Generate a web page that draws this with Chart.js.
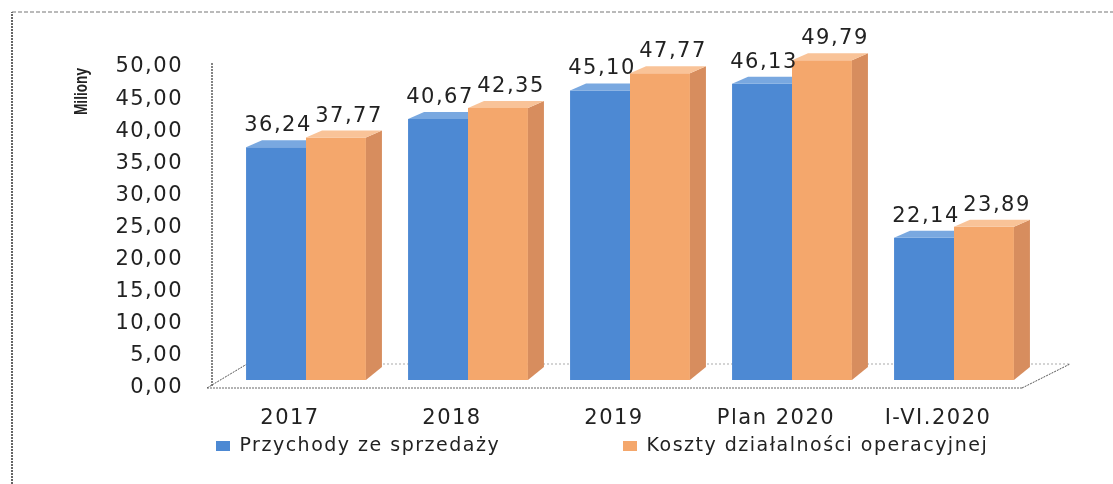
<!DOCTYPE html>
<html><head><meta charset="utf-8">
<script src="https://cdn.jsdelivr.net/npm/chart.js@4.4.1/dist/chart.umd.min.js"></script>
<style>html,body{margin:0;padding:0;background:#fff;overflow:hidden}canvas{display:block}</style>
</head><body>
<canvas id="c" width="1113" height="484"></canvas>
<script>
// ---- data ----
const categories = ['2017', '2018', '2019', 'Plan 2020', 'I-VI.2020'];
const seriesNames = ['Przychody ze sprzedaży', 'Koszty działalności operacyjnej'];
const przychody = [36.24, 40.67, 45.10, 46.13, 22.14];
const koszty = [37.77, 42.35, 47.77, 49.79, 23.89];
const yMin = 0, yMax = 50, yStep = 5;
const axisTitle = 'Miliony';

// ---- style ----
const FONT = "'DejaVu Sans', Verdana, sans-serif";
const TITLE_FAMILY = "'Liberation Sans', Arial, sans-serif";
const TEXT = '#222';
const LS = '1.5px';
const front = ['#4d89d3', '#f4a76c'];
const topC = ['#79a8e0', '#f9c398'];
const sideC = ['#3f74b8', '#d78d5e'];
const DX = 16, DY_TOP = 7, DY_BOT = 13;
const fmt = v => v.toFixed(2).replace('.', ',');

// legend geometry
const LEG_FS = 19, BOXW = 14, BOXH = 10;
const tmp = document.createElement('canvas').getContext('2d');
tmp.font = LEG_FS + 'px ' + FONT; tmp.letterSpacing = LS;
const blueW = tmp.measureText(seriesNames[0]).width;
const LEG_X1 = 216, LEG_X2 = 623, LEG_Y = 436.5;
const legPad = Math.max(10, LEG_X2 - LEG_X1 - (BOXW + LEG_FS / 2 + blueW));

// axis title geometry (condensed look)
const TITLE_Y0 = 68, TITLE_LEN = 47;

function poly(ctx, pts, fill) {
  ctx.beginPath();
  ctx.moveTo(pts[0][0], pts[0][1]);
  for (let k = 1; k < pts.length; k++) ctx.lineTo(pts[k][0], pts[k][1]);
  ctx.closePath();
  ctx.fillStyle = fill;
  ctx.fill();
}
function line(ctx, a, b, color, dash, w) {
  ctx.beginPath();
  ctx.setLineDash(dash);
  ctx.strokeStyle = color; ctx.lineWidth = w;
  ctx.moveTo(a[0], a[1]); ctx.lineTo(b[0], b[1]);
  ctx.stroke();
}

const spacing = {
  id: 'spacing',
  beforeUpdate(c) { c.ctx.letterSpacing = LS; },
  beforeDraw(c) { c.ctx.letterSpacing = LS; }
};

const legendPos = {
  id: 'legendPos',
  afterLayout(c) {
    const lg = c.legend;
    lg.left = LEG_X1 - legPad;
    lg.right = 5000;
    lg.top = LEG_Y - legPad;
    const s = c.scales.y;
    if (!s._tw) {
      s._tw = true;
      const orig = s.drawTitle.bind(s);
      s.drawTitle = function () {
        const ctx = s.ctx;
        ctx.save();
        ctx.letterSpacing = '0px';
        ctx.font = 'bold 19px ' + TITLE_FAMILY;
        const L = ctx.measureText(axisTitle).width;
        const k = TITLE_LEN / L;
        ctx.translate(0, TITLE_Y0);
        ctx.scale(1, k);
        ctx.translate(0, -s.top);
        orig();
        ctx.restore();
      };
    }
  }
};

const frame = {
  id: 'frame',
  beforeDatasetsDraw(chart) {
    const ctx = chart.ctx;
    const {left, right, top, bottom} = chart.chartArea;
    ctx.save();
    line(ctx, [12, 484], [12, 12], '#333', [2, 1], 1.5);
    line(ctx, [12, 12], [1113, 12], '#777', [4, 2], 1.2);
    line(ctx, [left - 13, top + 4], [left - 13, bottom + 7], '#333', [2, 1], 1.2);
    line(ctx, [left - 18, bottom + 8], [right - 13, bottom + 8], '#666', [2, 1], 1);
    line(ctx, [left - 18, bottom + 8], [left + 22, bottom - 16], '#555', [2, 1], 1);
    line(ctx, [left + 22, bottom - 16], [right + 35, bottom - 16], '#aaa', [2, 2], 1);
    line(ctx, [right - 13, bottom + 8], [right + 35, bottom - 16], '#555', [2, 1], 1);
    ctx.restore();
  }
};

const threeD = {
  id: 'threeD',
  afterDatasetsDraw(chart) {
    const ctx = chart.ctx;
    const metas = chart.data.datasets.map((d, i) => chart.getDatasetMeta(i));
    ctx.save();
    for (let i = 0; i < categories.length; i++) {
      metas.forEach((m, di) => {
        const el = m.data[i];
        const l = el.x - el.width / 2, r = el.x + el.width / 2, t = el.y, b = el.base;
        const last = di === metas.length - 1;
        if (last) poly(ctx, [[r, t], [r + DX, t - DY_TOP], [r + DX, b - DY_BOT], [r, b]], sideC[di]);
        const rEnd = last ? r + DX : r;
        poly(ctx, [[l, t], [l + DX, t - DY_TOP], [rEnd, t - DY_TOP], [r, t]], topC[di]);
      });
    }
    ctx.font = '21px ' + FONT;
    ctx.letterSpacing = LS;
    ctx.fillStyle = TEXT;
    ctx.textAlign = 'center';
    ctx.textBaseline = 'alphabetic';
    metas.forEach((m, di) => {
      const vals = chart.data.datasets[di].data;
      m.data.forEach((el, i) => {
        const dx = di === 0 ? 2 : 13;
        ctx.fillText(fmt(vals[i]), el.x + dx, el.y - 16);
      });
    });
    ctx.restore();
  }
};

new Chart(document.getElementById('c'), {
  type: 'bar',
  data: {
    labels: categories,
    datasets: [
      { label: seriesNames[0], data: przychody, backgroundColor: front[0], borderWidth: 0 },
      { label: seriesNames[1], data: koszty, backgroundColor: front[1], borderWidth: 0 }
    ]
  },
  options: {
    responsive: false,
    animation: false,
    devicePixelRatio: 1,
    datasets: { bar: { categoryPercentage: 0.74, barPercentage: 1 } },
    layout: { padding: { top: 59, left: 60, right: 78, bottom: 14 } },
    scales: {
      x: {
        grid: { display: false, drawTicks: false },
        border: { display: false },
        ticks: { color: TEXT, font: { family: FONT, size: 21 }, padding: 26, labelOffset: -16, maxRotation: 0, autoSkip: false },
        afterFit(s) { s.height = 50; }
      },
      y: {
        min: yMin, max: yMax,
        grid: { display: false, drawTicks: false },
        border: { display: false },
        ticks: { stepSize: yStep, color: TEXT, font: { family: FONT, size: 21 }, padding: 42, labelOffset: 8,
                 callback: v => fmt(v) },
        title: { display: true, text: axisTitle, align: 'end', color: '#222',
                 font: { family: TITLE_FAMILY, size: 19, weight: 'bold' },
                 padding: { top: 10, bottom: 0 } },
        afterFit(s) { s.width = 165; }
      }
    },
    plugins: {
      legend: {
        position: 'bottom', align: 'start', maxHeight: 40,
        labels: { color: TEXT, font: { family: FONT, size: LEG_FS }, boxWidth: BOXW, boxHeight: BOXH, padding: legPad }
      },
      tooltip: { enabled: false }
    }
  },
  plugins: [spacing, legendPos, frame, threeD]
});
</script>
</body></html>
